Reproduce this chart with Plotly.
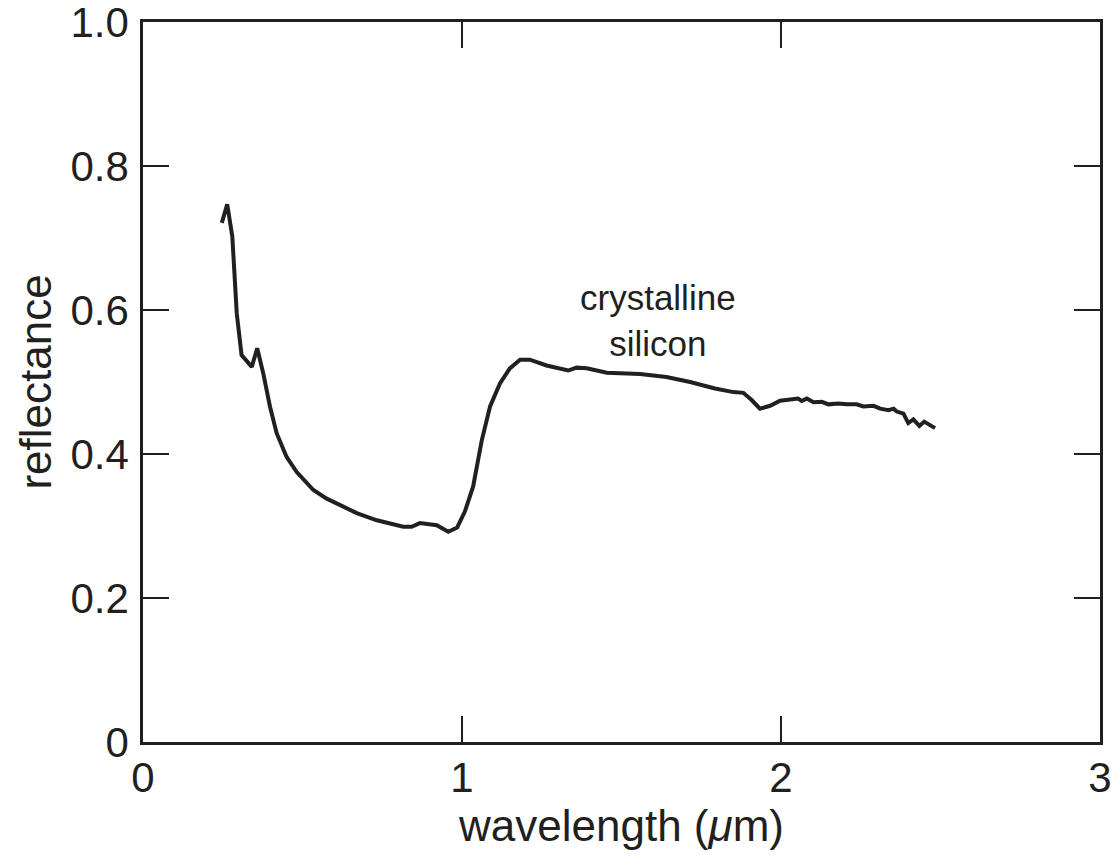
import plotly.graph_objects as go

wavelength = [0.247, 0.264, 0.280, 0.294, 0.309, 0.341, 0.358, 0.377, 0.398, 0.419, 0.450,
              0.482, 0.534, 0.576, 0.670, 0.733, 0.816, 0.842, 0.868, 0.921, 0.957,
              0.985, 1.009, 1.035, 1.062, 1.088, 1.119, 1.150, 1.182, 1.213,
              1.265, 1.333, 1.359, 1.391, 1.454, 1.558, 1.641, 1.715, 1.793, 1.851, 1.882,
              1.908, 1.934, 1.966, 1.997, 2.028, 2.054,
              2.065, 2.081, 2.102, 2.128, 2.149, 2.180, 2.206, 2.237, 2.258, 2.290, 2.311,
              2.337, 2.353, 2.363, 2.384, 2.399, 2.415, 2.434, 2.449, 2.462, 2.483]
reflectance = [0.721, 0.747, 0.702, 0.595, 0.5375, 0.521, 0.547, 0.512, 0.466, 0.429, 0.396,
               0.375, 0.350, 0.338, 0.318, 0.308, 0.299, 0.299, 0.304, 0.301, 0.292,
               0.298, 0.320, 0.355, 0.419, 0.466, 0.498, 0.519, 0.531, 0.531,
               0.523, 0.516, 0.520, 0.519, 0.513, 0.511, 0.507, 0.500, 0.491, 0.486, 0.485,
               0.475, 0.463, 0.467, 0.474, 0.475, 0.477,
               0.4736, 0.477, 0.472, 0.4725, 0.469, 0.470, 0.469, 0.469, 0.466, 0.467, 0.463,
               0.461, 0.463, 0.459, 0.456, 0.443, 0.448, 0.439, 0.445, 0.441, 0.436]

x_ticks = [0, 1, 2, 3]
x_tick_labels = ["0", "1", "2", "3"]
y_ticks = [0, 0.2, 0.4, 0.6, 0.8, 1.0]
y_tick_labels = ["0", "0.2", "0.4", "0.6", "0.8", "1.0"]

ink = "#231f20"
font_family = "Helvetica, Arial, Liberation Sans, sans-serif"

fig = go.Figure()
fig.add_trace(go.Scatter(x=wavelength, y=reflectance, mode="lines",
                         line=dict(color=ink, width=4), showlegend=False, cliponaxis=False))

fig.add_annotation(x=1.614, y=0.586, text="crystalline<br>silicon", showarrow=False,
                   font=dict(family=font_family, size=35, color=ink))

axis_common = dict(showgrid=False, zeroline=False, showline=True, linecolor=ink, linewidth=2.5,
                   ticks="inside", ticklen=26, tickwidth=2, tickcolor=ink, mirror="ticks",
                   tickfont=dict(family=font_family, size=42, color=ink), automargin=False,
                   ticklabeloverflow="allow")

fig.update_xaxes(range=[0, 3.0001], tickvals=x_ticks, ticktext=x_tick_labels,
                 title=dict(text="wavelength (<i>μ</i>m)", font=dict(family=font_family, size=44, color=ink),
                            standoff=0),
                 ticklabelstandoff=-3, **axis_common)
fig.update_yaxes(range=[0, 1.0001], tickvals=y_ticks, ticktext=y_tick_labels,
                 title=dict(text="reflectance", font=dict(family=font_family, size=44, color=ink),
                            standoff=6),
                 ticklabelstandoff=3, **axis_common)

fig.update_layout(width=1115, height=855, margin=dict(l=143, r=15, t=22, b=113),
                  plot_bgcolor="white", paper_bgcolor="white")

fig.write_html("out.html", config={"displayModeBar": False},
               post_script="document.body.style.margin='0px';")
